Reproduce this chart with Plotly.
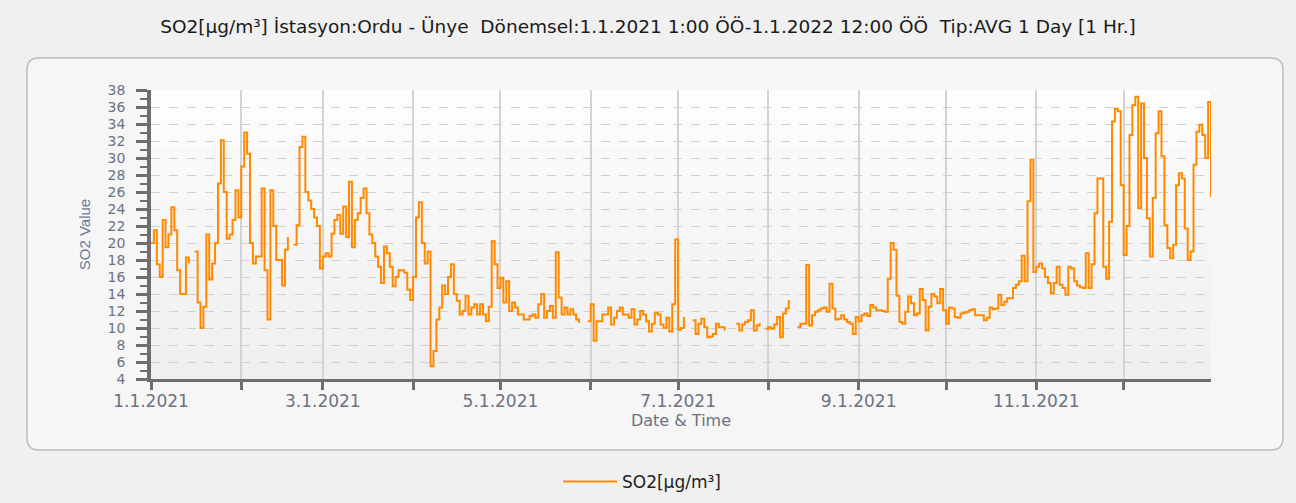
import pandas as pd
import plotly.graph_objects as go

# ---------------- data (daily averages, 2021) ----------------
so2_jan = [20, 21.5, 17.5, 16, 22.7, 19.5, 21, 24.2, 21.5, 16.8, 14, 14, 18.3, 17.6, None, 19,
           13, 10, 12.5, 21, 15.7, 17.6, 20, 27, 32.1, 26, 20.5, 21, 22.7, 26.2, 23]
so2_feb = [29, 33, 30.5, 20, 17.6, 18.4, 18.4, 26.4, 16.8, 11, 26.2, 22, 18, 18, 15, 19.2,
           20.7, None, 19.8, 22.1, 31.3, 32.5, 26, 25, 24, 23, 22, 17]
so2_mar = [18.4, 18.8, 18.4, 21.1, 22.7, 23.3, 21.1, 24.3, 20.7, 27.2, 19.5, 22.7, 23.5, 25.3,
           26.4, 23.5, 21, 20, 18.4, 17.2, 15.3, 19.6, 18.8, 17.2, 14.9, 16, 16.8, 16.8, 16.5,
           14.5, 13.3]
so2_apr = [16, 23, 24.8, 20, 17.6, 19, 5.5, 7.3, 11, 12.4, 15, 14, 16, 17.5, 14, 13.2, 11.6,
           12, 13.8, 11.6, 12.4, 12.8, 11.6, 12.8, 11.6, 10.8, 12.5, 20.2, 17.5, 14.7]
so2_may = [15.9, 13, 15.5, 12, 13, 12.4, 11.6, 11.6, 11, 11, 11.4, 11.6, 11.2, 12.8, 14, 11.2,
           12, 12.6, 11.2, 18.9, 13.6, 11.6, 12.4, 11.6, 12.2, 11.6, 11, 10.6, None, None, 10.8]
so2_jun = [12.8, 8.5, 10.8, 10.8, 11.6, 11.6, 12.4, 10.4, 11.2, 12, 12.4, 11.6, 11.6, 11.2,
           12.2, 10.4, 11, 12, 11.6, 10.8, 9.6, 10.5, 11.8, 11.6, 10.4, 10, 11.2, 9.6, 12.8, 20.4]
so2_jul = [9.8, 10, 11.3, None, None, 10.9, 9.3, 10.5, 11.1, 10.1, 8.9, 9, 9.3, 10.5, 10.1,
           10.1, 9.7, None, None, None, 10.5, 9.7, 10.4, 10.7, 10.9, 12.1, 9.7, 10.3, 10.6,
           None, 9.9]
so2_aug = [10.1, 9.9, 10.4, 11.3, 8.9, 11.7, 12.3, 13.3, None, None, 10.1, 10.5, 10.5, 17.4,
           10.3, 11.5, 11.9, 12.1, 12.3, 12.4, 11.9, 15.2, 12.3, 11, 11.1, 11.5, 11, 10.7,
           10.5, 9.3, 11.3]
so2_sep = [10.8, 11.5, 11.7, 11.4, 12.7, 12.4, 12.1, 12.1, 12, 11.9, 15.8, 20, 19.2, 13.8,
           10.7, 10.5, 11.9, 13.7, 12.9, 11.5, 11.7, 14.6, 13.3, 9.7, 12.5, 14, 13.7, 12.9,
           14.6, 12.1]
so2_oct = [10.5, 12.4, 12.3, 11.3, 11.2, 11.7, 11.8, 11.9, 12.1, 12.2, 11.5, 11.5, 11.5, 10.9,
           11.2, 12.4, 12.2, 12.3, 13.9, 12.7, 13.1, 13.5, 13.5, 14.7, 15.1, 15.5, 18.5, 15.5,
           24.9, 29.8, 16.6]
so2_nov = [17.2, 17.6, 17, 16, 15.3, 14.1, 15.3, 17.2, 15.1, 14.7, 13.9, 17.2, 17, 15.5, 15,
           14.8, 14.7, 18.8, 14.7, 17.5, 23.5, 27.6, 27.6, 17.2, 15.8, 22.5, 34.3, 35.8, 35.5,
           26.8]
so2_dec = [18.6, 22, 32.7, 36.2, 37.2, 24.1, 36.4, 30, 22.9, 18.4, 25.3, 32.9, 35.5, 30.2,
           22.1, 19.4, 18.2, 19.8, 26.8, 28.2, 27.6, 21.7, 18, 19, 29.2, 33.1, 33.9, 32.7, 30,
           36.6, 25.4]

so2_values = (so2_jan + so2_feb + so2_mar + so2_apr + so2_may + so2_jun +
              so2_jul + so2_aug + so2_sep + so2_oct + so2_nov + so2_dec)
dates = pd.date_range("2021-01-01", periods=len(so2_values), freq="D")

month_ticks = ["2021-01-01", "2021-02-01", "2021-03-01", "2021-04-01", "2021-05-01",
               "2021-06-01", "2021-07-01", "2021-08-01", "2021-09-01", "2021-10-01",
               "2021-11-01", "2021-12-01"]
month_labels = ["1.1.2021", "", "3.1.2021", "", "5.1.2021", "", "7.1.2021", "",
                "9.1.2021", "", "11.1.2021", ""]

series_name = "SO2[µg/m³]"
chart_title = ("SO2[µg/m³] İstasyon:Ordu - Ünye  Dönemsel:1.1.2021 1:00 ÖÖ-1.1.2022 12:00 ÖÖ"
               "  Tip:AVG 1 Day [1 Hr.]")

# ---------------- layout geometry ----------------
W, H = 1296, 503
L, R, T, B = 151, 1211, 90, 379   # plot area in pixels


def px(xp, yp):
    return (xp - L) / (R - L), (B - yp) / (B - T)


def rounded_rect(x0, y0, x1, y1, r):
    ax0, ay0 = px(x0, y0)
    ax1, ay1 = px(x1, y1)
    rx = r / (R - L)
    ry = r / (B - T)
    return (f"M{ax0 + rx},{ay0} L{ax1 - rx},{ay0} Q{ax1},{ay0} {ax1},{ay0 - ry} "
            f"L{ax1},{ay1 + ry} Q{ax1},{ay1} {ax1 - rx},{ay1} L{ax0 + rx},{ay1} "
            f"Q{ax0},{ay1} {ax0},{ay1 + ry} L{ax0},{ay0 - ry} Q{ax0},{ay0} {ax0 + rx},{ay0} Z")


shapes = [dict(type="path", xref="paper", yref="paper", layer="below",
               path=rounded_rect(27, 58, 1283, 450, 12),
               fillcolor="#f6f6f6", line=dict(color="#bdbdbd", width=1.5))]
# plot-area background as light vertical gradient
bands = ["#fdfdfd", "#fbfbfb", "#f9f9f9", "#f8f8f8", "#f6f6f6", "#f5f5f5",
         "#f3f3f3", "#f2f2f2", "#f1f1f1", "#efefef"]
nb = len(bands)
for i, c in enumerate(bands):
    shapes.append(dict(type="rect", xref="paper", yref="paper", layer="below",
                       x0=0, x1=1, y0=1 - (i + 1) / nb, y1=1 - i / nb,
                       fillcolor=c, line=dict(width=0)))

fig = go.Figure()
fig.add_trace(go.Scatter(
    x=dates, y=so2_values, mode="lines", name=series_name,
    line=dict(color="#ff8a00", width=2, shape="hv"),
    connectgaps=False,
))

axis_gray = "#6e6e6e"
label_color = "#6c7282"

fig.update_layout(
    width=W, height=H,
    margin=dict(l=L, r=W - R, t=T, b=H - B, autoexpand=False),
    paper_bgcolor="#f0f0f0",
    plot_bgcolor="rgba(0,0,0,0)",
    shapes=shapes,
    title=dict(text=chart_title, x=648 / W, xanchor="center", y=1 - 27 / H,
               yanchor="middle", xref="container", yref="container",
               font=dict(family="DejaVu Sans", size=18.5, color="#1a1a1a")),
    showlegend=True,
    legend=dict(orientation="h", x=px(642, 0)[0], xanchor="center",
                y=px(0, 482)[1], yanchor="middle", bgcolor="rgba(0,0,0,0)",
                font=dict(family="DejaVu Sans", size=17, color="#222222"),
                itemwidth=54),
    xaxis=dict(
        type="date",
        range=["2021-01-01", "2021-12-31"],
        tickmode="array", tickvals=month_ticks, ticktext=month_labels,
        ticks="outside", ticklen=8, tickwidth=3, tickcolor=axis_gray,
        ticklabelstandoff=-3,
        showline=True, linecolor=axis_gray, linewidth=3,
        showgrid=True, gridcolor="#d3d3d3", gridwidth=2,
        zeroline=False,
        tickfont=dict(family="DejaVu Sans", size=17, color=label_color),
        title=dict(text="Date & Time", standoff=0,
                   font=dict(family="DejaVu Sans", size=16, color=label_color)),
    ),
    yaxis=dict(
        range=[4, 38], dtick=2, tick0=4,
        ticks="outside", ticklen=11, tickwidth=2.5, tickcolor=axis_gray,
        ticklabelstandoff=8,
        minor=dict(dtick=1, ticks="outside", ticklen=7, tickwidth=2, tickcolor=axis_gray,
                   showgrid=False),
        showline=True, linecolor=axis_gray, linewidth=3.5,
        showgrid=True, gridcolor="#d0d0d0", gridwidth=1.3, griddash="dash",
        zeroline=False,
        tickfont=dict(family="DejaVu Sans", size=14, color=label_color),
        title=dict(text="SO2 Value", standoff=14,
                   font=dict(family="Liberation Sans", size=15, color="#6a7896")),
    ),
)

fig.write_html(
    "out.html",
    config={"displayModeBar": False},
    post_script="document.body.style.margin='0';document.body.style.background='#f0f0f0';",
)
